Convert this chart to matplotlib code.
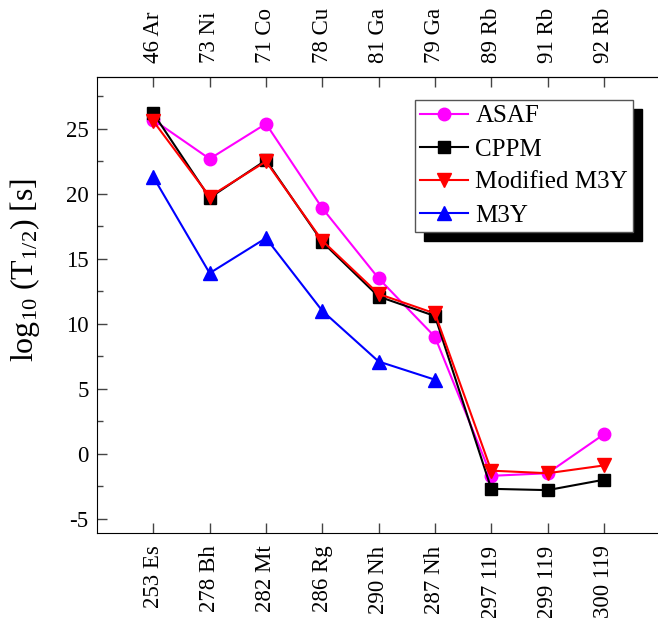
import matplotlib.pyplot as plt

plt.rcParams['font.family'] = 'serif'
plt.rcParams['font.serif'] = ['Liberation Serif', 'DejaVu Serif']
plt.rcParams['mathtext.fontset'] = 'custom'
plt.rcParams['mathtext.rm'] = 'Liberation Serif'
plt.rcParams['mathtext.it'] = 'Liberation Serif'
plt.rcParams['axes.unicode_minus'] = False

# parent nuclei (bottom) and cluster emitted (top)
parents = ['253 Es', '278 Bh', '282 Mt', '286 Rg', '290 Nh', '287 Nh', '297 119', '299 119', '300 119']
clusters = ['46 Ar', '73 Ni', '71 Co', '78 Cu', '81 Ga', '79 Ga', '89 Rb', '91 Rb', '92 Rb']

asaf = [25.7, 22.7, 25.4, 18.9, 13.5, 9.0, -1.7, -1.5, 1.5]
cppm = [26.2, 19.7, 22.6, 16.3, 12.1, 10.6, -2.7, -2.8, -2.0]
mod_m3y = [25.6, 19.8, 22.5, 16.4, 12.3, 10.8, -1.3, -1.5, -0.9]
m3y = [21.3, 13.9, 16.6, 11.0, 7.1, 5.7]

fig = plt.figure(figsize=(6.58, 6.18), dpi=100)
ax = fig.add_axes([97/658, 1-533/618, 1-97/658, (533-77)/618])

x = list(range(len(parents)))
ax.plot(x, asaf, color='#ff00ff', marker='o', ms=9, lw=1.5, label='ASAF')
ax.plot(x, cppm, color='black', marker='s', ms=8, lw=1.5, label='CPPM')
ax.plot(x, mod_m3y, color='red', marker='v', ms=10, lw=1.5, label='Modified M3Y')
ax.plot(x[:len(m3y)], m3y, color='blue', marker='^', ms=10, lw=1.5, label='M3Y')

ax.set_xlim(-1, 8.96)
ax.set_ylim(-6.1, 29)
ax.set_yticks([-5, 0, 5, 10, 15, 20, 25])
ax.set_yticks([-2.5, 2.5, 7.5, 12.5, 17.5, 22.5, 27.5], minor=True)
ax.set_xticks(x)
ax.set_xticklabels(parents, rotation=90)
ax.tick_params(axis='both', which='major', direction='in', length=7, width=1, labelsize=16.5, color='#444444')
ax.tick_params(axis='x', pad=9)
ax.tick_params(axis='y', pad=6)
ax.tick_params(axis='y', which='minor', direction='in', length=4, width=1, color='#444444')
ax.spines['right'].set_visible(False)

top = ax.secondary_xaxis('top')
top.set_xticks(x)
top.set_xticklabels(clusters, rotation=90)
top.tick_params(direction='in', length=7, width=1, labelsize=16.5, color='#444444', pad=10)

ax.set_ylabel(r'log$_{10}$ (T$_{1/2}$) [s]', fontsize=23)
ax.yaxis.set_label_coords(-0.098, 0.577)

leg = ax.legend(loc='upper right', bbox_to_anchor=(633/658, 1-100/618), bbox_transform=fig.transFigure,
                fontsize=18, frameon=True, fancybox=False, borderaxespad=0, borderpad=0.2,
                handlelength=1.9, handletextpad=0.3, labelspacing=0.42,
                shadow={'color': 'black', 'alpha': 1, 'ox': 6.5, 'oy': -6.5})
leg.get_frame().set_edgecolor('#555555')
leg.get_frame().set_linewidth(1)
leg.get_frame().set_alpha(1)

fig.savefig('out.png', dpi=100)
